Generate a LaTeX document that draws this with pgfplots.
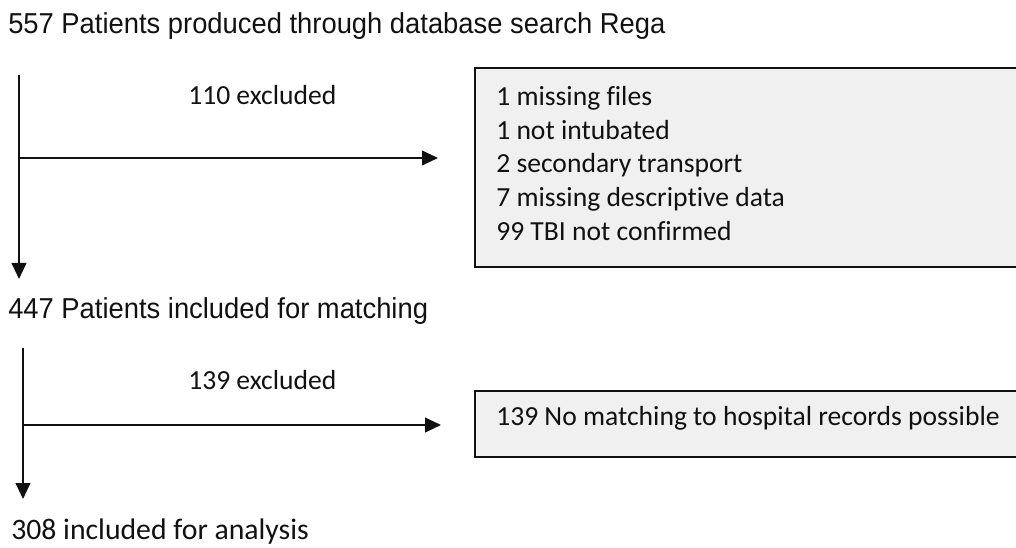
\documentclass[border=0pt]{standalone}
\usepackage{fontspec}
\setmainfont{Liberation Sans}[FakeStretch=0.95]
\newfontfamily\calibri{Carlito}[Ligatures={NoCommon}]
\usepackage{pgfplots}
\pgfplotsset{compat=1.18}
\usetikzlibrary{arrows.meta}
\definecolor{boxfill}{HTML}{F0F0F0}
\definecolor{ink}{HTML}{111111}
\begin{document}
\begin{tikzpicture}
\useasboundingbox (0,0) rectangle (762pt,411pt);
\begin{axis}[
  at={(0,0)}, anchor=south west,
  width=762pt, height=411pt, scale only axis,
  xmin=0, xmax=1016, ymin=0, ymax=548, y dir=reverse,
  hide axis, clip=false,
]
% boxes
\addplot[draw=ink, line width=1.6pt, fill=boxfill] coordinates {(475,68) (1030,68) (1030,267) (475,267)} -- cycle;
\addplot[draw=ink, line width=1.6pt, fill=boxfill] coordinates {(475,391) (1030,391) (1030,457) (475,457)} -- cycle;
% arrows
\addplot[ink, line width=1.5pt, -{Triangle[length=12pt,width=11pt]}] coordinates {(19,75) (19,279)};
\addplot[ink, line width=1.5pt, -{Triangle[length=12pt,width=11pt]}] coordinates {(20,158) (438,158)};
\addplot[ink, line width=1.5pt, -{Triangle[length=12pt,width=11pt]}] coordinates {(23,348) (23,499)};
\addplot[ink, line width=1.5pt, -{Triangle[length=12pt,width=11pt]}] coordinates {(24,425) (441,425)};
% texts
\node[anchor=base west, inner sep=0pt, font=\fontsize{21.6}{25}\selectfont, text=ink] at (axis cs:8,34) {557 Patients produced through database search Rega};
\node[anchor=base west, inner sep=0pt, font=\fontsize{21.6}{25}\selectfont, text=ink] at (axis cs:8,319) {447 Patients included for matching};
\node[anchor=base west, inner sep=0pt, font=\calibri\fontsize{22.3}{26}\selectfont, text=ink] at (axis cs:11,539) {308 included for analysis};
\node[anchor=base west, inner sep=0pt, font=\calibri\fontsize{20.7}{24}\selectfont, text=ink] at (axis cs:188,105) {110 excluded};
\node[anchor=base west, inner sep=0pt, font=\calibri\fontsize{20.7}{24}\selectfont, text=ink] at (axis cs:188,389) {139 excluded};
\node[anchor=base west, inner sep=0pt, font=\calibri\fontsize{20.7}{24}\selectfont, text=ink] at (axis cs:496,106) {1 missing files};
\node[anchor=base west, inner sep=0pt, font=\calibri\fontsize{20.7}{24}\selectfont, text=ink] at (axis cs:496,139.5) {1 not intubated};
\node[anchor=base west, inner sep=0pt, font=\calibri\fontsize{20.7}{24}\selectfont, text=ink] at (axis cs:496,173) {2 secondary transport};
\node[anchor=base west, inner sep=0pt, font=\calibri\fontsize{20.7}{24}\selectfont, text=ink] at (axis cs:496,207) {7 missing descriptive data};
\node[anchor=base west, inner sep=0pt, font=\calibri\fontsize{20.7}{24}\selectfont, text=ink] at (axis cs:496,240.5) {99 TBI not confirmed};
\node[anchor=base west, inner sep=0pt, font=\calibri\fontsize{20.7}{24}\selectfont, text=ink] at (axis cs:496,425) {139 No matching to hospital records possible};
\end{axis}
\end{tikzpicture}
\end{document}
